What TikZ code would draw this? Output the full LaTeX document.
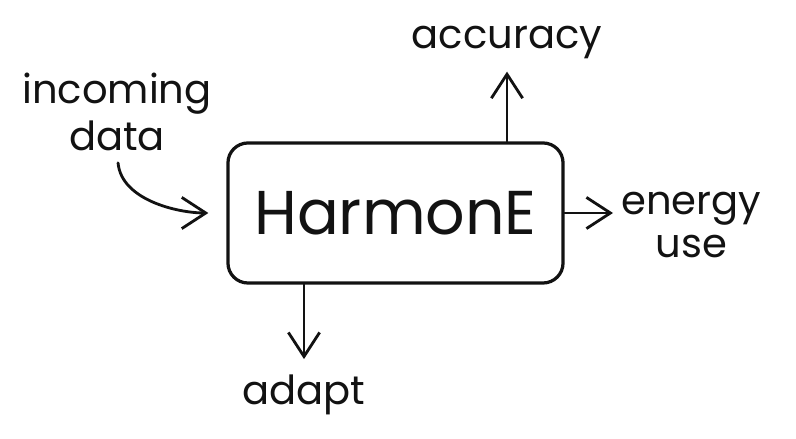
\documentclass[tikz,border=0pt]{standalone}
\usepackage{fontspec}
\setmainfont{Poppins}
\usetikzlibrary{arrows.meta,positioning}
\definecolor{HEink}{RGB}{18,18,18}
\tikzset{
  core/.style={rounded corners=0.5cm,draw=HEink,line width=2.3pt,
               minimum width=8.375cm,minimum height=3.5cm,inner sep=0pt,
               text=HEink,font=\fontsize{44}{52}\selectfont},
  lbl/.style={text=HEink,align=center,inner sep=0pt,
              font=\fontsize{28.5}{34}\selectfont},
  fl/.style={-{Straight Barb[length=0.6cm,width=0.78cm,line width=2pt]},
             line width=2pt,draw=HEink,line cap=round,line join=round}
}
\begin{document}
\begin{tikzpicture}[x=0.025cm,y=0.025cm]
  \useasboundingbox (0,0) rectangle (796,439);
  \node[core] (box) at (395.5,226) {HarmonE};
  \node[lbl,font=\fontsize{28.5}{33}\selectfont] (in) at (117,327) {incoming\\data};
  \node[lbl,anchor=base] (acc) at (507,390) {accuracy};
  \node[lbl,font=\fontsize{28.5}{31}\selectfont,anchor=west] (en) at (621,214) {energy\\use};
  \node[lbl,anchor=base] (ad) at (304,34) {adapt};
  \draw[fl,shorten <=0.3cm,shorten >=0.45cm] (in.south) to[out=-85,in=180] (box.west);
  \draw[fl,shorten >=0.3cm] (acc.south |- box.north) -- (acc.south);
  \draw[fl,shorten >=0.2cm] (box.east) -- (box.east -| en.west);
  \draw[fl,shorten >=0.4cm] (box.south -| ad.north) -- (ad.north);
\end{tikzpicture}
\end{document}
